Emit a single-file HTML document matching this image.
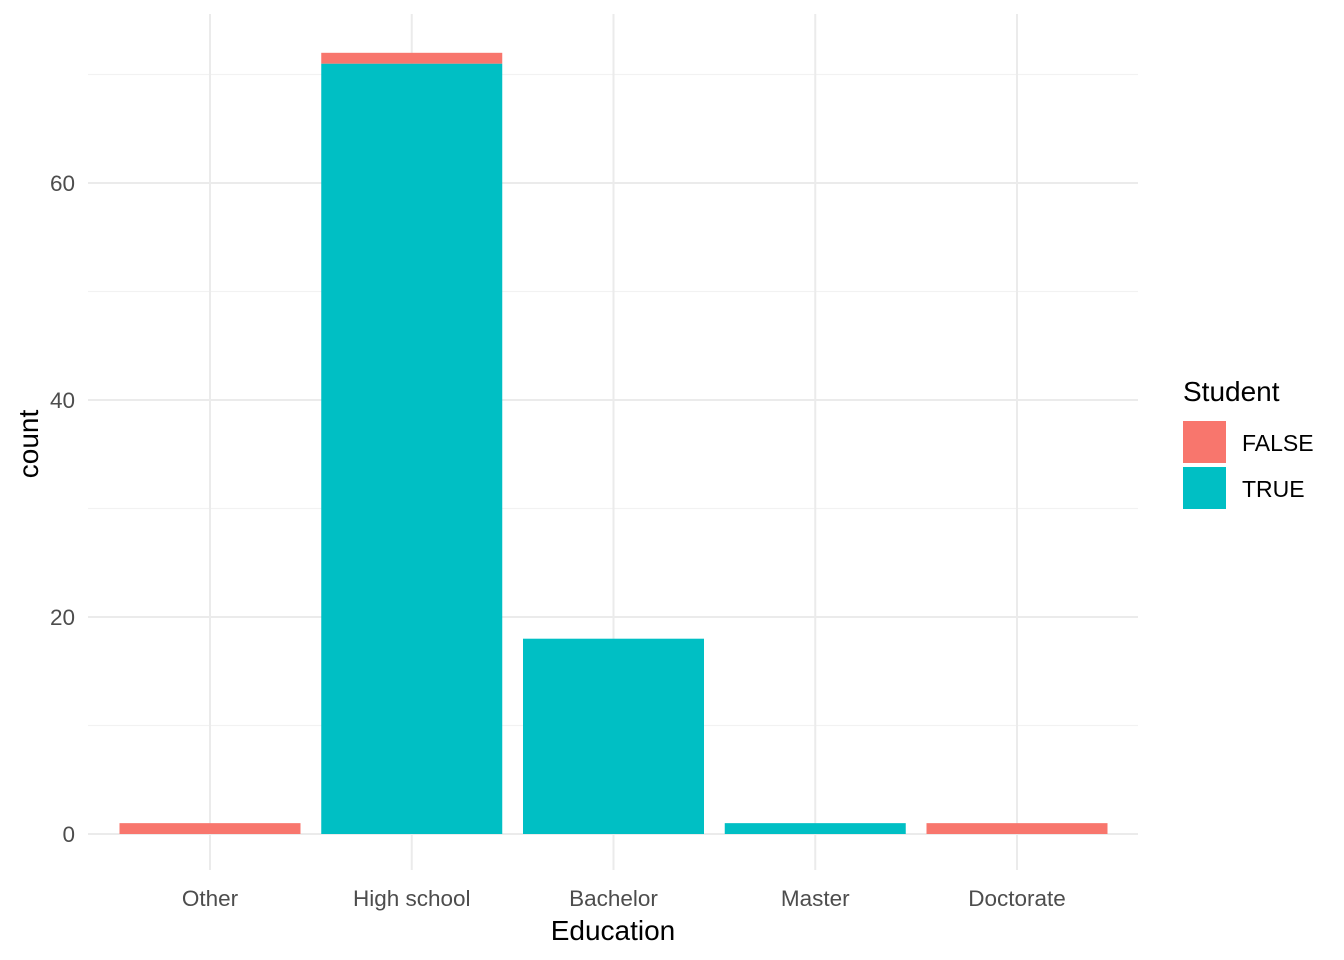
<!DOCTYPE html>
<html><head><meta charset="utf-8"><style>
body{margin:0;background:#fff;}
svg{display:block;font-family:"Liberation Sans",Arial,sans-serif;}
</style></head><body>
<svg id="chart" width="1344" height="960">
<g id="grid"></g>
<g id="bars"></g>
<g id="axes"></g>
<text x="613" y="940" text-anchor="middle" font-size="28" fill="#000">Education</text>
<text transform="translate(38,444) rotate(-90)" text-anchor="middle" font-size="28" fill="#000">count</text>
<g>
<text x="1183" y="401" font-size="28" fill="#000">Student</text>
<rect x="1183" y="421" width="43" height="42" fill="#F8766D"/>
<text x="1242" y="451" font-size="23" fill="#000">FALSE</text>
<rect x="1183" y="467" width="43" height="42" fill="#00BFC4"/>
<text x="1242" y="497" font-size="23" fill="#000">TRUE</text>
</g>
</svg>
<script>
const categories=["Other","High school","Bachelor","Master","Doctorate"];
const trueVals=[0,71,18,1,0];
const falseVals=[1,1,0,0,1];
const yTicks=[0,20,40,60];
const yMinor=[10,30,50,70];
const NS="http://www.w3.org/2000/svg";
const y=v=>834-v*(834-183)/60;
const x=i=>210+i*201.75;
const bw=181;
function mk(tag,attrs,parent){const e=document.createElementNS(NS,tag);for(const k in attrs)e.setAttribute(k,attrs[k]);document.getElementById(parent).appendChild(e);return e;}
yMinor.forEach(v=>{const l=mk('line',{x1:88,x2:1138,y1:y(v),y2:y(v),stroke:'#f2f2f2','stroke-width':1.2},'grid');

});
yTicks.forEach(v=>{const l=mk('line',{x1:88,x2:1138,y1:y(v),y2:y(v),stroke:'#ebebeb','stroke-width':2},'grid');


const t=mk('text',{x:75,y:y(v)+8,'text-anchor':'end','font-size':22.5,fill:'#4d4d4d'},'axes');t.textContent=v;

});
categories.forEach((c,i)=>{const l=mk('line',{x1:x(i),x2:x(i),y1:14,y2:870,stroke:'#ebebeb','stroke-width':2},'grid');


const t=mk('text',{x:x(i),y:906,'text-anchor':'middle','font-size':22.5,fill:'#4d4d4d'},'axes');t.textContent=c;


const tv=trueVals[i],fv=falseVals[i];
if(tv>0){const r=mk('rect',{x:x(i)-bw/2,width:bw,y:y(tv),height:y(0)-y(tv),fill:'#00BFC4'},'bars');

}
if(fv>0){const r=mk('rect',{x:x(i)-bw/2,width:bw,y:y(tv+fv),height:y(tv)-y(tv+fv),fill:'#F8766D'},'bars');

}
});
</script>
</body></html>
